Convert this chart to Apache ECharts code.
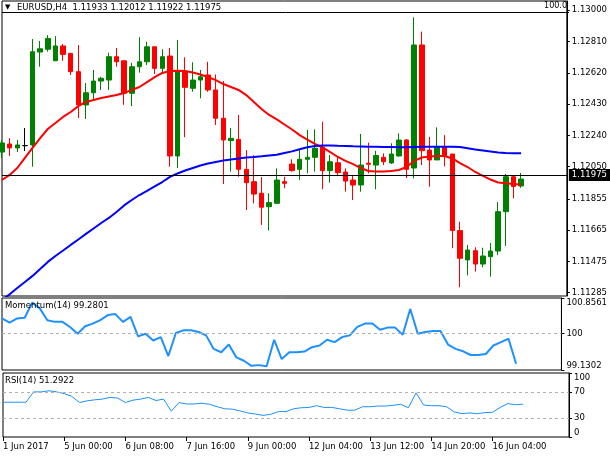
<!DOCTYPE html>
<html><head><meta charset="utf-8">
<script src="https://cdn.jsdelivr.net/npm/echarts@6/dist/echarts.min.js"></script>
<style>html,body{margin:0;padding:0;background:#fff}#c{width:610px;height:457px}</style>
</head><body><div id="c"></div>
<script>
// ---- data (EURUSD H4) ----
const symbolName = 'EURUSD,H4';
const xTickLabels = ['1 Jun 2017','5 Jun 00:00','6 Jun 08:00','7 Jun 16:00','9 Jun 00:00','12 Jun 04:00','13 Jun 12:00','14 Jun 20:00','16 Jun 04:00'];
const barsPerLabel = 8;
const slotCount = 75;

const opens = [1.12139,1.12188,1.12164,1.12178,1.12182,1.12746,1.12763,1.12693,1.12783,1.12738,
1.12627,1.12425,1.12499,1.12570,1.12576,1.12718,1.12693,1.12496,1.12657,1.12687,
1.12778,1.12647,1.12722,1.12115,1.12627,1.12526,1.12576,1.12607,1.12516,1.12344,
1.12208,1.12216,1.12034,1.11959,1.11889,1.11807,1.11828,1.11959,1.12066,1.12034,
1.12095,1.12107,1.12168,1.12026,1.12074,1.12018,1.11969,1.11939,1.12071,1.12060,
1.12107,1.12073,1.12115,1.12212,1.12042,1.12789,1.12151,1.12091,1.12168,1.12127,
1.11662,1.11484,1.11540,1.11459,1.11504,1.11538,1.11777,1.11989,1.11933];
const closes = [1.12194,1.12164,1.12182,1.12178,1.12748,1.12766,1.12829,1.12783,1.12732,1.12627,
1.12425,1.12499,1.12570,1.12587,1.12718,1.12687,1.12496,1.12657,1.12687,1.12778,
1.12647,1.12718,1.12115,1.12627,1.12532,1.12576,1.12596,1.12516,1.12344,1.12212,
1.12222,1.12034,1.11953,1.11884,1.11804,1.11832,1.11969,1.11949,1.12026,1.12095,
1.12107,1.12162,1.12026,1.12080,1.12014,1.11963,1.11939,1.12060,1.12065,1.12118,
1.12080,1.12127,1.12212,1.12034,1.12789,1.12147,1.12091,1.12170,1.12111,1.11662,
1.11494,1.11544,1.11459,1.11508,1.11538,1.11777,1.11989,1.11930,1.11975];
const lows = [1.12103,1.12115,1.12139,1.12145,1.12050,1.12657,1.12748,1.12693,1.12693,1.12607,
1.12346,1.12340,1.12455,1.12516,1.12516,1.12657,1.12425,1.12418,1.12621,1.12667,
1.12613,1.12613,1.12050,1.12042,1.12229,1.12505,1.12465,1.12505,1.12303,1.11945,
1.12020,1.11989,1.11787,1.11828,1.11696,1.11662,1.11824,1.11919,1.12020,1.11969,
1.12010,1.12020,1.11913,1.11953,1.12000,1.11898,1.11848,1.11898,1.12010,1.11913,
1.12060,1.12066,1.12111,1.11981,1.11979,1.12060,1.11929,1.12091,1.12052,1.11555,
1.11318,1.11390,1.11413,1.11440,1.11382,1.11514,1.11569,1.11858,1.11922];
const highs = [1.12212,1.12224,1.12212,1.12285,1.12825,1.12813,1.12849,1.12843,1.12795,1.12740,
1.12789,1.12558,1.12637,1.12595,1.12742,1.12771,1.12693,1.12680,1.12837,1.12809,
1.12778,1.12763,1.12771,1.12819,1.12714,1.12684,1.12637,1.12687,1.12610,1.12570,
1.12285,1.12364,1.12151,1.12120,1.11987,1.11889,1.12040,1.11989,1.12095,1.12151,
1.12273,1.12277,1.12323,1.12121,1.12111,1.12040,1.12000,1.12249,1.12196,1.12147,
1.12131,1.12192,1.12253,1.12218,1.12957,1.12870,1.12230,1.12289,1.12242,1.12127,
1.11716,1.11575,1.11561,1.11558,1.11587,1.11835,1.12006,1.12000,1.12012];

const maRed = [1.11969,1.12000,1.12042,1.12103,1.12164,1.12224,1.12279,1.12315,1.12352,1.12382,
1.12418,1.12443,1.12455,1.12467,1.12476,1.12485,1.12497,1.12516,1.12534,1.12564,
1.12594,1.12619,1.12631,1.12633,1.12631,1.12622,1.12610,1.12594,1.12576,1.12552,
1.12534,1.12516,1.12485,1.12443,1.12400,1.12364,1.12337,1.12306,1.12276,1.12242,
1.12215,1.12188,1.12167,1.12139,1.12109,1.12085,1.12066,1.12042,1.12024,1.12021,
1.12021,1.12024,1.12030,1.12048,1.12085,1.12106,1.12112,1.12115,1.12115,1.12100,
1.12072,1.12048,1.12018,1.11994,1.11972,1.11954,1.11949,1.11945,1.11942];
const maBlue = [1.11241,1.11275,1.11314,1.11350,1.11387,1.11429,1.11472,1.11508,1.11541,1.11575,
1.11608,1.11642,1.11675,1.11708,1.11739,1.11775,1.11815,1.11848,1.11878,1.11903,
1.11930,1.11957,1.11988,1.12009,1.12027,1.12042,1.12057,1.12069,1.12079,1.12088,
1.12094,1.12100,1.12106,1.12109,1.12113,1.12118,1.12122,1.12133,1.12143,1.12156,
1.12168,1.12176,1.12179,1.12179,1.12177,1.12176,1.12174,1.12173,1.12171,1.12171,
1.12170,1.12170,1.12168,1.12168,1.12170,1.12171,1.12171,1.12171,1.12171,1.12171,
1.12170,1.12162,1.12154,1.12148,1.12142,1.12136,1.12133,1.12131,1.12131];

const momentum = [100.365,100.267,100.365,100.381,100.745,100.608,100.324,100.284,100.284,100.162,
100.000,100.178,100.243,100.324,100.446,100.470,100.284,100.405,99.935,100.000,
99.838,99.919,99.465,100.016,100.081,100.081,100.041,99.960,99.636,99.555,
99.741,99.433,99.352,99.231,99.247,99.222,99.854,99.393,99.555,99.555,
99.571,99.676,99.717,99.854,99.798,99.919,99.960,100.162,100.243,100.243,
100.097,100.146,100.146,99.976,100.591,100.000,100.041,100.065,100.065,99.741,
99.636,99.579,99.490,99.490,99.514,99.717,99.798,99.879,99.2801];
const rsi = [54.3,54.3,54.3,54.3,70.5,70.5,72.2,70.5,67.8,63.5,
53.8,56.5,58.1,59.2,61.9,60.8,53.8,57.6,59.2,61.9,
57.0,59.2,40.3,53.8,51.6,51.6,52.7,51.1,47.3,44.1,
43.5,40.8,37.6,35.9,33.8,35.4,39.7,39.7,44.1,45.7,
46.2,48.9,46.2,46.2,44.1,41.9,41.9,47.3,47.3,48.4,
48.4,49.5,51.1,45.7,68.9,50.0,48.9,48.9,47.3,39.2,
36.5,37.6,36.5,38.1,38.6,46.2,52.2,50.5,51.2922];

const priceTicks = [1.13000,1.12810,1.12620,1.12430,1.12240,1.12050,1.11855,1.11665,1.11475,1.11285];
const priceMin = 1.11265, priceMax = 1.13056;
const momTicks = [100.8561, 100, 99.1302];
const momLevels = [100];
const rsiTicks = [100, 70, 30, 0];
const rsiLevels = [70, 30];

// ---- chart ----
const FONT = 'DejaVu Sans';
const FS = 8.5;
const last = closes.length - 1;
const categories = Array.from({length: slotCount}, (_, i) => String(i));
const isLabelIdx = (i) => i % barsPerLabel === 0 && i / barsPerLabel < xTickLabels.length;

const ohlc = opens.map((o, i) => [o, closes[i], lows[i], highs[i]]);
const header = symbolName + '  ' + [opens[last], highs[last], lows[last], closes[last]].map(v => v.toFixed(5)).join(' ');

function hiddenX(g) {
  return {type:'category', gridIndex:g, data:categories, boundaryGap:false,
    axisLine:{show:false}, axisTick:{show:false}, axisLabel:{show:false}, splitLine:{show:false}};
}
function rightY(g, min, max, ticks, fmt) {
  const lab = {show:true, customValues:ticks, formatter:fmt, color:'#000', fontFamily:FONT, fontSize:FS, margin:5};
  if (g !== 0) { lab.verticalAlignMinLabel = 'top'; lab.verticalAlignMaxLabel = 'bottom'; }
  return {type:'value', gridIndex:g, position:'right', min:min, max:max, scale:true,
    splitLine:{show:false},
    axisLine:{show:true, lineStyle:{color:'#000', width:1}},
    axisTick:{show:true, length:3, lineStyle:{color:'#000'}, customValues:ticks},
    axisLabel:lab};
}
const dashed = (vals) => ({silent:true, symbol:['none','none'], label:{show:false},
  lineStyle:{color:'#b0b0b0', type:[3,3], width:1}, data: vals.map(v => ({yAxis:v})), animation:false});

const option = {
  animation:false,
  backgroundColor:'#fff',
  grid:[
    {left:2, right:41, top:1, height:295, show:true, borderColor:'#000', borderWidth:1},
    {left:2, right:41, top:298, height:72, show:true, borderColor:'#000', borderWidth:1},
    {left:2, right:41, top:373, height:64, show:true, borderColor:'#000', borderWidth:1}
  ],
  xAxis:[hiddenX(0), hiddenX(1),
    {type:'category', gridIndex:2, data:categories, boundaryGap:false,
      axisLine:{show:false},
      axisTick:{show:true, length:4, interval:(i)=>isLabelIdx(i), lineStyle:{color:'#000'}},
      axisLabel:{show:true, interval:(i)=>isLabelIdx(i), align:'left', margin:5,
        formatter:(v, i)=> isLabelIdx(i) ? xTickLabels[i / barsPerLabel] : '',
        color:'#000', fontFamily:FONT, fontSize:FS},
      splitLine:{show:false}}
  ],
  yAxis:[
    rightY(0, priceMin, priceMax, priceTicks, v => v.toFixed(5)),
    rightY(1, momTicks[2], momTicks[0], momTicks, v => String(v)),
    rightY(2, 0, 100, rsiTicks, v => String(v))
  ],
  series:[
    {type:'candlestick', xAxisIndex:0, yAxisIndex:0, data:ohlc, barWidth:5, clip:true,
      itemStyle:{color:'#008000', color0:'#ff0000', borderColor:'#008000', borderColor0:'#ff0000',
        borderColorDoji:'#000000', borderWidth:1},
      markLine:{silent:true, symbol:['none','none'], animation:false,
        lineStyle:{color:'#000', width:1, type:'solid'},
        label:{show:true, position:'end', distance:2, formatter: closes[last].toFixed(5),
          backgroundColor:'#000', color:'#fff', padding:[2,3,1,3], fontFamily:FONT, fontSize:FS},
        data:[{yAxis:closes[last]}]}},
    {type:'line', xAxisIndex:0, yAxisIndex:0, data:maRed, showSymbol:false, symbol:'none',
      lineStyle:{color:'#ff0000', width:2}, z:3},
    {type:'line', xAxisIndex:0, yAxisIndex:0, data:maBlue, showSymbol:false, symbol:'none',
      lineStyle:{color:'#0000ff', width:2}, z:3},
    {type:'line', xAxisIndex:1, yAxisIndex:1, data:momentum, showSymbol:false, symbol:'none',
      lineStyle:{color:'#1e90ff', width:2}, markLine:dashed(momLevels)},
    {type:'line', xAxisIndex:2, yAxisIndex:2, data:rsi, showSymbol:false, symbol:'none',
      lineStyle:{color:'#1e90ff', width:1}, markLine:dashed(rsiLevels)}
  ],
  graphic:[
    {type:'line', shape:{x1:2, y1:12.5, x2:569, y2:12.5}, style:{stroke:'#000', lineWidth:1}, z:10},
    {type:'text', left:5, top:4, style:{text:'▼', fill:'#000', font:'7px ' + FONT}, z:11},
    {type:'text', left:17, top:3, style:{text:header, fill:'#000', font:FS + 'px ' + FONT}, z:11},
    {type:'text', right:43, top:2, style:{text:'100.0', fill:'#000', font:'8px ' + FONT}, z:11},
    {type:'text', left:5, top:301, style:{text:'Momentum(14) ' + momentum[last], fill:'#000', font:FS + 'px ' + FONT}, z:11},
    {type:'text', left:5, top:376, style:{text:'RSI(14) ' + rsi[last], fill:'#000', font:FS + 'px ' + FONT}, z:11}
  ]
};
const chart = echarts.init(document.getElementById('c'), null, {renderer:'canvas'});
chart.setOption(option);
</script>
</body></html>
